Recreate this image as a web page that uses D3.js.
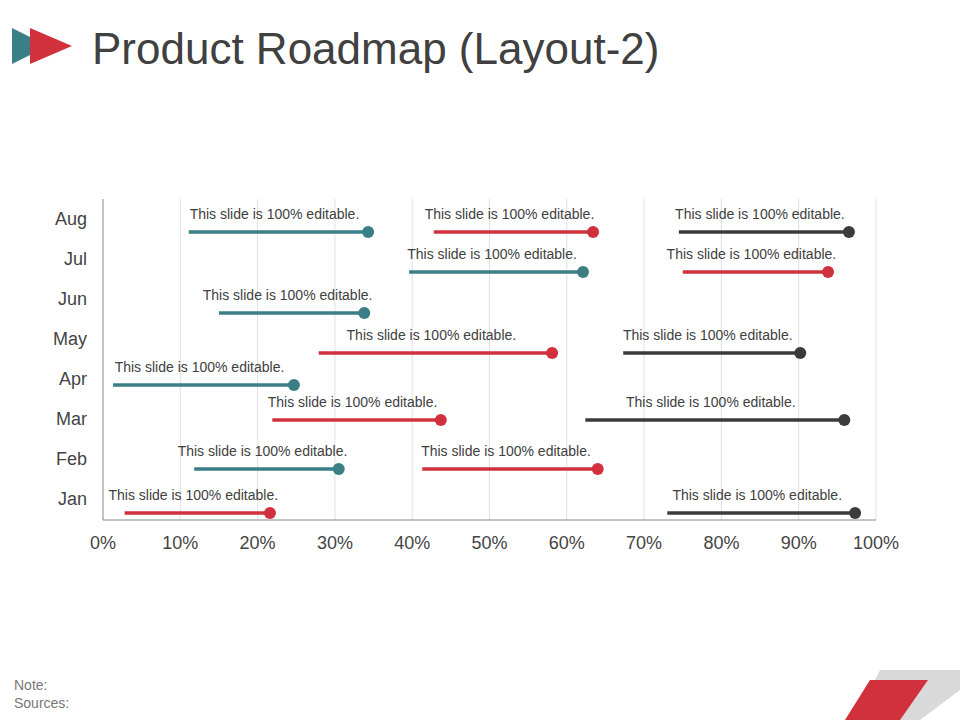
<!DOCTYPE html><html><head><meta charset="utf-8">
<script src="https://cdn.jsdelivr.net/npm/d3@7"></script>
<style>body{margin:0;background:#fff}svg{font-family:Arial,"Liberation Sans",sans-serif}</style></head><body>
<script>
const months = ["Jan","Feb","Mar","Apr","May","Jun","Jul","Aug"];
const xTicks = [0,10,20,30,40,50,60,70,80,90,100];
// bars: month, series, start %, end %, vertical position (category units, Jan=1)
const barMonth = ["Aug","Aug","Aug","Jul","Jul","Jun","May","May","Apr","Mar","Mar","Feb","Feb","Jan","Jan"];
const barSeries = ["teal","red","dark","teal","red","teal","red","dark","teal","red","dark","teal","red","red","dark"];
const barStart = [11.1,42.8,74.5,39.6,75.0,15.0,27.9,67.3,1.3,21.9,62.4,11.8,41.3,2.8,73.0];
const barEnd   = [34.3,63.4,96.5,62.1,93.8,33.8,58.1,90.2,24.7,43.7,95.9,30.5,64.0,21.6,97.3];
const barY     = [7.675,7.675,7.675,6.675,6.675,5.65,4.65,4.65,3.85,2.975,2.975,1.75,1.75,0.65,0.65];
const labelText = "This slide is 100% editable.";
const colors = {teal:"#3a7f86", red:"#d0313c", dark:"#3b3b3b"};

const svg = d3.select("body").append("svg").attr("width",960).attr("height",720);
svg.append("polygon").attr("points","12,28 12,64 48,46").attr("fill","#3a7f86");
svg.append("polygon").attr("points","30,28 30,64 72,46").attr("fill","#d0313c");
svg.append("text").attr("x",92).attr("y",64).attr("font-size",44).attr("fill","#404040").text("Product Roadmap (Layout-2)");

const x = d3.scaleLinear().domain([0,100]).range([103,876]);
const y = d3.scaleLinear().domain([1,8]).range([499,219]);
const plotTop=199, plotBottom=520;
svg.append("g").selectAll("line").data(xTicks.slice(1)).join("line")
  .attr("x1",d=>x(d)).attr("x2",d=>x(d)).attr("y1",plotTop).attr("y2",plotBottom).attr("stroke","#e0e0e0");
svg.append("line").attr("x1",103).attr("x2",103).attr("y1",plotTop).attr("y2",plotBottom).attr("stroke","#888");
svg.append("line").attr("x1",103).attr("x2",876).attr("y1",plotBottom).attr("y2",plotBottom).attr("stroke","#888");
svg.append("g").selectAll("text").data(xTicks).join("text")
  .attr("x",d=>x(d)).attr("y",549).attr("text-anchor","middle").attr("font-size",18).attr("fill","#444").text(d=>d+"%");
svg.append("g").selectAll("text").data(months).join("text")
  .attr("x",87).attr("y",(d,i)=>y(i+1)+6).attr("text-anchor","end").attr("font-size",18).attr("fill","#444").text(d=>d);

const bars = barMonth.map((m,i)=>({m,s:barSeries[i],a:barStart[i],b:barEnd[i],y:barY[i]}));
const g = svg.append("g");
g.selectAll("line").data(bars).join("line")
  .attr("x1",d=>x(d.a)).attr("x2",d=>x(d.b)).attr("y1",d=>y(d.y)).attr("y2",d=>y(d.y))
  .attr("stroke",d=>colors[d.s]).attr("stroke-width",3.5);
g.selectAll("circle").data(bars).join("circle")
  .attr("cx",d=>x(d.b)).attr("cy",d=>y(d.y)).attr("r",6).attr("fill",d=>colors[d.s]);
g.selectAll("text").data(bars).join("text")
  .attr("x",d=>(x(d.a)+x(d.b))/2-4).attr("y",d=>y(d.y)-13).attr("text-anchor","middle")
  .attr("font-size",14).attr("fill","#404040").text(labelText);

svg.append("text").attr("x",14).attr("y",690).attr("font-size",14).attr("fill","#777").text("Note:");
svg.append("text").attr("x",14).attr("y",708).attr("font-size",14).attr("fill","#777").text("Sources:");
svg.append("polygon").attr("points","880,670 960,670 960,690 920,720 855,720").attr("fill","#d9d9d9");
svg.append("polygon").attr("points","870,680 928,680 900,720 845,720").attr("fill","#d0313c");
</script></body></html>
